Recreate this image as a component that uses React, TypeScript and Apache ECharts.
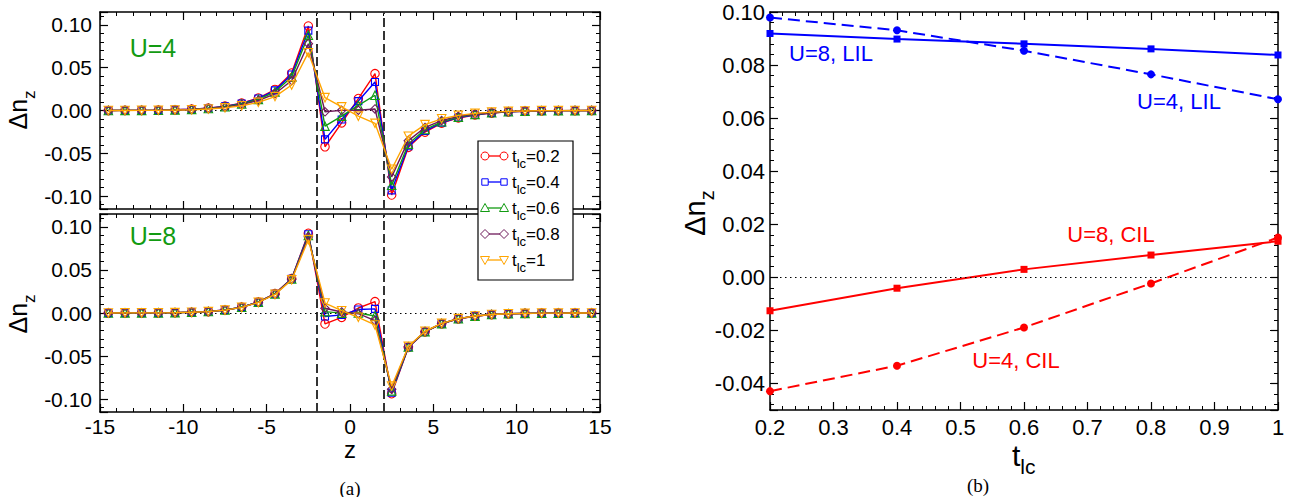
import React, { useEffect, useRef } from "react";
import * as echarts from "echarts";

// ---------- data ----------
const zValues = [
  -14.5, -13.5, -12.5, -11.5, -10.5, -9.5, -8.5, -7.5, -6.5, -5.5, -4.5, -3.5, -2.5,
  -1.5, -0.5, 0.5, 1.5,
  2.5, 3.5, 4.5, 5.5, 6.5, 7.5, 8.5, 9.5, 10.5, 11.5, 12.5, 13.5, 14.5,
];

// U = 4 panel
const u4T02 = [0.0, 0.0001, 0.0002, 0.0004, 0.0008, 0.0015, 0.0028, 0.005, 0.0085, 0.0145, 0.0245, 0.0437, 0.0986,
  -0.0423, -0.0144, 0.0139, 0.043,
  -0.0986, -0.043, -0.0252, -0.0148, -0.0087, -0.0052, -0.003, -0.0016, -0.0008, -0.0004, -0.0002, -0.0001, 0.0];
const u4T04 = [0.0, 0.0001, 0.0002, 0.0004, 0.0008, 0.0014, 0.0026, 0.0048, 0.0082, 0.014, 0.0235, 0.042, 0.0932,
  -0.0337, -0.0105, 0.011, 0.0333,
  -0.0932, -0.0418, -0.024, -0.0142, -0.0083, -0.0049, -0.0028, -0.0015, -0.0008, -0.0004, -0.0002, -0.0001, 0.0];
const u4T06 = [0.0, 0.0001, 0.0002, 0.0003, 0.0007, 0.0013, 0.0024, 0.0044, 0.0076, 0.013, 0.0218, 0.039, 0.0878,
  -0.0183, -0.0066, 0.006, 0.0178,
  -0.0872, -0.0392, -0.0222, -0.0132, -0.0077, -0.0045, -0.0026, -0.0014, -0.0007, -0.0003, -0.0002, -0.0001, 0.0];
const u4T08 = [0.0, 0.0001, 0.0001, 0.0003, 0.0006, 0.0011, 0.0021, 0.0039, 0.0068, 0.0117, 0.0195, 0.035, 0.078,
  -0.0015, 0.0002, 0.0003, 0.0018,
  -0.0775, -0.0352, -0.0198, -0.0117, -0.0068, -0.004, -0.0023, -0.0012, -0.0006, -0.0003, -0.0001, 0.0, 0.0];
const u4T10 = [0.0, 0.0, 0.0001, 0.0002, 0.0005, 0.0009, 0.0017, 0.0031, 0.0055, 0.0095, 0.0162, 0.0298, 0.0675,
  0.015, 0.0042, -0.0066, -0.015,
  -0.0686, -0.03, -0.0165, -0.0097, -0.0057, -0.0033, -0.0019, -0.001, -0.0005, -0.0002, -0.0001, 0.0, 0.0];

// U = 8 panel
const u8T02 = [0.0, 0.0001, 0.0001, 0.0002, 0.0004, 0.0008, 0.0017, 0.0035, 0.0068, 0.0128, 0.0225, 0.04, 0.0926,
  -0.0127, -0.005, 0.0058, 0.0132,
  -0.0937, -0.04, -0.022, -0.0125, -0.0068, -0.0037, -0.0019, -0.0009, -0.0005, -0.0002, -0.0001, 0.0, 0.0];
const u8T04 = [0.0, 0.0001, 0.0001, 0.0002, 0.0004, 0.0008, 0.0017, 0.0035, 0.0068, 0.0127, 0.0223, 0.0398, 0.0915,
  -0.004, -0.0022, 0.004, 0.0048,
  -0.0925, -0.0398, -0.0218, -0.0124, -0.0067, -0.0036, -0.0019, -0.0009, -0.0004, -0.0002, -0.0001, 0.0, 0.0];
const u8T06 = [0.0, 0.0001, 0.0001, 0.0002, 0.0004, 0.0008, 0.0017, 0.0034, 0.0067, 0.0126, 0.0221, 0.0395, 0.09,
  0.0016, -0.0002, 0.0, -0.0035,
  -0.0905, -0.0395, -0.0216, -0.0123, -0.0066, -0.0036, -0.0018, -0.0009, -0.0004, -0.0002, -0.0001, 0.0, 0.0];
const u8T08 = [0.0, 0.0001, 0.0001, 0.0002, 0.0004, 0.0008, 0.0016, 0.0034, 0.0066, 0.0125, 0.0219, 0.0392, 0.0885,
  0.0055, 0.0012, -0.0008, -0.0088,
  -0.0885, -0.0392, -0.0214, -0.0122, -0.0066, -0.0035, -0.0018, -0.0009, -0.0004, -0.0002, -0.0001, 0.0, 0.0];
const u8T10 = [0.0, 0.0001, 0.0001, 0.0002, 0.0004, 0.0008, 0.0016, 0.0033, 0.0065, 0.0123, 0.0216, 0.0385, 0.0852,
  0.0116, 0.0027, -0.005, -0.0139,
  -0.085, -0.0388, -0.0212, -0.012, -0.0065, -0.0035, -0.0018, -0.0009, -0.0004, -0.0002, -0.0001, 0.0, 0.0];

// right panel
const tlcValues = [0.2, 0.4, 0.6, 0.8, 1.0];
const u4LIL = [0.0979, 0.0931, 0.0854, 0.0765, 0.0671];
const u8LIL = [0.0919, 0.0898, 0.088, 0.0861, 0.0838];
const u8CIL = [-0.0126, -0.0041, 0.003, 0.0084, 0.0136];
const u4CIL = [-0.0429, -0.0333, -0.0189, -0.0023, 0.015];

const legendLabels = ["0.2", "0.4", "0.6", "0.8", "1"];
const interfaceZ = [-2, 2];

// ---------- styling ----------
const FONT = "Liberation Sans";
const RED = "#ff0000";
const BLUE = "#0000ff";
const GREEN = "#129b12";
const PURPLE = "#6e1a5a";
const ORANGE = "#ffa500";

const tColors = [RED, BLUE, GREEN, PURPLE, ORANGE];
const tSymbols = ["circle", "rect", "triangle", "diamond", "triangle"];
const tSizes = [8.5, 7, 8.5, 8.5, 8.5];
const tRotate = [0, 0, 0, 0, 180];

const axisBase = (extra: any) => ({
  type: "value",
  axisLine: { show: true, onZero: false, lineStyle: { color: "#000", width: 1.5 } },
  axisTick: { show: true, inside: true, length: 8, lineStyle: { color: "#000", width: 1.2 } },
  minorTick: { show: true, splitNumber: 5, length: 4, lineStyle: { color: "#000", width: 1 } },
  splitLine: { show: false },
  minorSplitLine: { show: false },
  ...extra,
});

function zSeries(values: number[], k: number, axis: number, withMarks: boolean) {
  const s: any = {
    type: "line",
    xAxisIndex: axis,
    yAxisIndex: axis,
    data: zValues.map((z, i) => [z, values[i]]),
    symbol: tSymbols[k],
    symbolSize: tSizes[k],
    symbolRotate: tRotate[k],
    showSymbol: true,
    lineStyle: { color: tColors[k], width: 1.4 },
    itemStyle: { color: "rgba(255,255,255,0)", borderColor: tColors[k], borderWidth: 1.1 },
    emphasis: { disabled: true },
    silent: true,
    z: 3 + k,
  };
  if (withMarks) {
    s.markLine = {
      silent: true,
      symbol: "none",
      label: { show: false },
      emphasis: { disabled: true },
      lineStyle: { color: "#333", width: 2, type: [9, 4] },
      data: [
        ...interfaceZ.map((v) => ({ xAxis: v })),
        { yAxis: 0, lineStyle: { color: "#000", width: 1.2, type: [1.5, 3.5] } },
      ],
    };
  }
  return s;
}

function tSeries(values: number[], color: string, dashed: boolean, symbol: string, size: number, marks: boolean) {
  const s: any = {
    type: "line",
    xAxisIndex: 4,
    yAxisIndex: 4,
    data: tlcValues.map((t, i) => [t, values[i]]),
    symbol,
    symbolSize: size,
    showSymbol: true,
    lineStyle: { color, width: 2, type: dashed ? [12, 6] : "solid" },
    itemStyle: { color },
    emphasis: { disabled: true },
    silent: true,
    z: 3,
  };
  if (marks) {
    s.markLine = {
      silent: true,
      symbol: "none",
      label: { show: false },
      emphasis: { disabled: true },
      lineStyle: { color: "#000", width: 1.2, type: [1.5, 3.5] },
      data: [{ yAxis: 0 }],
    };
  }
  return s;
}

function text(x: number, y: number, t: string, size: number, color: string, extra: any = {}) {
  return {
    type: "text",
    x,
    y,
    z: 100,
    silent: true,
    style: {
      text: t,
      fill: color,
      fontSize: size,
      fontFamily: FONT,
      align: "center",
      verticalAlign: "middle",
      ...extra,
    },
  };
}

function richText(x: number, y: number, str: string, main: number, sub: number, pad: number, rotation = 0, align = "center") {
  return {
    type: "text",
    x,
    y,
    z: 100,
    rotation,
    silent: true,
    style: {
      text: str,
      fill: "#000",
      fontSize: main,
      fontFamily: FONT,
      align,
      verticalAlign: "middle",
      rich: {
        m: { fontSize: main, fontFamily: FONT, fill: "#000", color: "#000", lineHeight: main },
        s: { fontSize: sub, fontFamily: FONT, fill: "#000", color: "#000", lineHeight: sub, padding: [pad, 0, 0, 0] },
      },
    },
  };
}

function legendGraphics() {
  const els: any[] = [];
  els.push({
    type: "rect",
    z: 99,
    silent: true,
    shape: { x: 478, y: 141, width: 95, height: 139 },
    style: { fill: "#fff", stroke: "#000", lineWidth: 1.2 },
  });
  legendLabels.forEach((lab, i) => {
    const cy = 156 + 26 * i;
    const c = tColors[i];
    els.push({
      type: "line",
      z: 100,
      silent: true,
      shape: { x1: 485, y1: cy, x2: 504, y2: cy },
      style: { stroke: c, lineWidth: 1.3 },
    });
    [485, 504].forEach((cx) => {
      const st = { fill: "#fff", stroke: c, lineWidth: 1 };
      if (i === 0) els.push({ type: "circle", z: 101, silent: true, shape: { cx, cy, r: 4 }, style: st });
      else if (i === 1)
        els.push({ type: "rect", z: 101, silent: true, shape: { x: cx - 3.2, y: cy - 3.2, width: 6.4, height: 6.4 }, style: st });
      else if (i === 2)
        els.push({ type: "polygon", z: 101, silent: true, shape: { points: [[cx, cy - 4.5], [cx - 4.5, cy + 3.5], [cx + 4.5, cy + 3.5]] }, style: st });
      else if (i === 3)
        els.push({ type: "polygon", z: 101, silent: true, shape: { points: [[cx, cy - 4.5], [cx + 4.5, cy], [cx, cy + 4.5], [cx - 4.5, cy]] }, style: st });
      else
        els.push({ type: "polygon", z: 101, silent: true, shape: { points: [[cx - 4.5, cy - 3.5], [cx + 4.5, cy - 3.5], [cx, cy + 4.5]] }, style: st });
    });
    els.push(richText(512, cy, `{m|t}{s|lc}{m|=${lab}}`, 17, 13, 14, 0, "left"));
  });
  return els;
}

const option: any = {
  animation: false,
  backgroundColor: "#fff",
  textStyle: { fontFamily: FONT },
  grid: [
    { left: 100, top: 12, width: 500, height: 197 },
    { left: 100, top: 214, width: 500, height: 198 },
    { left: 770, top: 12, width: 508, height: 398 },
  ],
  xAxis: [
    axisBase({ gridIndex: 0, position: "bottom", min: -15, max: 15, interval: 5, axisLabel: { show: false } }),
    axisBase({ gridIndex: 0, position: "top", min: -15, max: 15, interval: 5, axisLabel: { show: false } }),
    axisBase({
      gridIndex: 1, position: "bottom", min: -15, max: 15, interval: 5,
      axisLabel: { show: true, fontSize: 21, color: "#000", margin: 4, fontFamily: FONT },
    }),
    axisBase({ gridIndex: 1, position: "top", min: -15, max: 15, interval: 5, axisLabel: { show: false } }),
    axisBase({
      gridIndex: 2, position: "bottom", min: 0.2, max: 1, interval: 0.1,
      axisLabel: {
        show: true, fontSize: 22, color: "#000", margin: 6, fontFamily: FONT,
        formatter: (v: number) => (Math.abs(v - 1) < 1e-9 ? "1" : v.toFixed(1)),
      },
    }),
    axisBase({ gridIndex: 2, position: "top", min: 0.2, max: 1, interval: 0.1, axisLabel: { show: false } }),
  ],
  yAxis: [
    axisBase({
      gridIndex: 0, position: "left", min: -0.115, max: 0.115, splitNumber: 5,
      axisLabel: { show: true, fontSize: 21, color: "#000", margin: 8, fontFamily: FONT, showMinLabel: false, showMaxLabel: false, formatter: (v: number) => v.toFixed(2) },
    }),
    axisBase({ gridIndex: 0, position: "right", min: -0.115, max: 0.115, splitNumber: 5, axisLabel: { show: false } }),
    axisBase({
      gridIndex: 1, position: "left", min: -0.115, max: 0.115, splitNumber: 5,
      axisLabel: { show: true, fontSize: 21, color: "#000", margin: 8, fontFamily: FONT, showMinLabel: false, showMaxLabel: false, formatter: (v: number) => v.toFixed(2) },
    }),
    axisBase({ gridIndex: 1, position: "right", min: -0.115, max: 0.115, splitNumber: 5, axisLabel: { show: false } }),
    axisBase({
      gridIndex: 2, position: "left", min: -0.05, max: 0.1, splitNumber: 7,
      axisLabel: { show: true, fontSize: 22, color: "#000", margin: 5, fontFamily: FONT, showMinLabel: false, showMaxLabel: true, formatter: (v: number) => v.toFixed(2) },
    }),
    axisBase({ gridIndex: 2, position: "right", min: -0.05, max: 0.1, splitNumber: 7, axisLabel: { show: false } }),
  ],
  series: [
    zSeries(u4T02, 0, 0, true),
    zSeries(u4T04, 1, 0, false),
    zSeries(u4T06, 2, 0, false),
    zSeries(u4T08, 3, 0, false),
    zSeries(u4T10, 4, 0, false),
    zSeries(u8T02, 0, 2, true),
    zSeries(u8T04, 1, 2, false),
    zSeries(u8T06, 2, 2, false),
    zSeries(u8T08, 3, 2, false),
    zSeries(u8T10, 4, 2, false),
    tSeries(u8CIL, RED, false, "rect", 7, true),
    tSeries(u4CIL, RED, true, "circle", 8, false),
    tSeries(u8LIL, BLUE, false, "rect", 7, false),
    tSeries(u4LIL, BLUE, true, "circle", 8, false),
  ],
  graphic: [
    text(153, 47.5, "U=4", 25, GREEN),
    text(153, 236, "U=8", 25, GREEN),
    text(831, 53, "U=8, LIL", 22, BLUE),
    text(1179, 101, "U=4, LIL", 22, BLUE),
    text(1111, 234, "U=8, CIL", 22, RED),
    text(1016, 360, "U=4, CIL", 22, RED),
    text(350, 449, "z", 24, "#000"),
    richText(18, 110, "{m|Δn}{s|z}", 25, 17, 22, Math.PI / 2),
    richText(18, 314, "{m|Δn}{s|z}", 25, 17, 22, Math.PI / 2),
    richText(695, 213, "{m|Δn}{s|z}", 29, 20, 24, Math.PI / 2),
    richText(1012, 455, "{m|t}{s|lc}", 30, 21, 23, 0, "left"),
    text(350, 488, "(a)", 19, "#000", { fontFamily: "Liberation Serif" }),
    text(978, 485, "(b)", 19, "#000", { fontFamily: "Liberation Serif" }),
    ...legendGraphics(),
  ],
};

export default function App() {
  const ref = useRef<HTMLDivElement>(null);
  useEffect(() => {
    document.body.style.margin = "0";
    const chart = echarts.init(ref.current as HTMLDivElement, null, { renderer: "svg" });
    chart.setOption(option);
    return () => chart.dispose();
  }, []);
  return <div ref={ref} style={{ width: 1298, height: 497, background: "#fff" }} />;
}
